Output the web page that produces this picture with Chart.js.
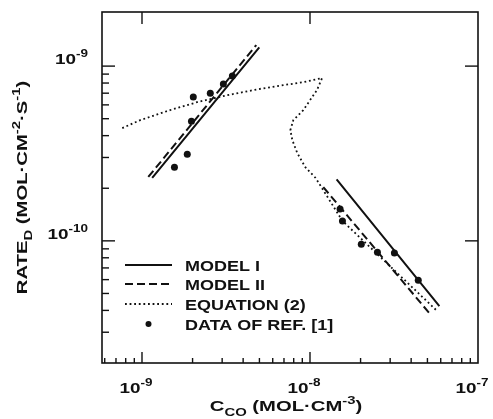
<!DOCTYPE html>
<html>
<head>
<meta charset="utf-8">
<script src="https://cdn.jsdelivr.net/npm/chart.js@4.4.1/dist/chart.umd.min.js"></script>
<style>
  html, body { margin: 0; padding: 0; background: #fff; }
  #wrap { width: 493px; height: 419px; }
</style>
</head>
<body>
<div id="wrap"><canvas id="chart"></canvas></div>
<script>
// data of ref. [1] (two groups)
const dataLowX = [1.56e-9, 1.86e-9, 1.97e-9, 2.02e-9, 2.55e-9, 3.05e-9, 3.45e-9];
const dataLowY = [2.64e-10, 3.13e-10, 4.84e-10, 6.65e-10, 7.0e-10, 7.89e-10, 8.77e-10];
const dataHighX = [1.51e-8, 1.56e-8, 2.02e-8, 2.52e-8, 3.18e-8, 4.41e-8];
const dataHighY = [1.52e-10, 1.30e-10, 9.57e-11, 8.61e-11, 8.51e-11, 5.96e-11];

// model lines, null = break between the two branches
const model1X = [1.15e-9, 4.99e-9, null, 1.44e-8, 5.89e-8];
const model1Y = [2.29e-10, 1.28e-9, null, 2.25e-10, 4.23e-11];
const model2X = [1.09e-9, 4.79e-9, null, 1.20e-8, 5.20e-8];
const model2Y = [2.32e-10, 1.32e-9, null, 2.03e-10, 3.80e-11];

// equation (2)
const eqX = [7.63e-10, 9.77e-10, 1.47e-9, 2.13e-9, 3.22e-9, 4.92e-9, 6.93e-9, 9.12e-9, 1.18e-8,
             1.10e-8, 9.12e-9, 7.96e-9, 7.64e-9, 7.85e-9, 8.40e-9, 9.38e-9, 1.08e-8, 1.18e-8, 1.56e-8, 5.65e-8];
const eqY = [4.42e-10, 4.91e-10, 5.60e-10, 6.22e-10, 6.82e-10, 7.38e-10, 7.78e-10, 8.09e-10, 8.54e-10,
             7.29e-10, 5.60e-10, 4.91e-10, 4.30e-10, 3.77e-10, 3.18e-10, 2.64e-10, 2.29e-10, 2.00e-10, 1.30e-10, 4.01e-11];

const xTickExps = [-9, -8, -7];
const yTickExps = [-10, -9];
const xTopTickExps = [-9, -8];
const legendLabels = ['MODEL I', 'MODEL II', 'EQUATION (2)', 'DATA OF REF. [1]'];

const INK = '#111';
const FONT = '"Liberation Sans", Arial, sans-serif';

function pts(xs, ys) {
  return xs.map((x, i) => ({ x: x, y: ys[i] }));
}

// draws text pieces (normal / sub / sup), stretched sideways like the old lettering
function drawParts(ctx, parts, x, y, align, base, stretch) {
  const sizes = { n: base, sub: Math.round(base * 0.75), sup: Math.round(base * 0.7) };
  const shift = { n: 0, sub: 5, sup: -7 };
  let total = 0;
  parts.forEach(p => {
    ctx.font = 'bold ' + sizes[p[1]] + 'px ' + FONT;
    total += ctx.measureText(p[0]).width;
  });
  total *= stretch;
  const start = align === 'right' ? x - total : align === 'center' ? x - total / 2 : x;
  ctx.save();
  ctx.translate(start, y);
  ctx.scale(stretch, 1);
  ctx.textAlign = 'left';
  ctx.textBaseline = 'alphabetic';
  let cx = 0;
  parts.forEach(p => {
    ctx.font = 'bold ' + sizes[p[1]] + 'px ' + FONT;
    ctx.fillText(p[0], cx, shift[p[1]]);
    cx += ctx.measureText(p[0]).width;
  });
  ctx.restore();
}

const axesPlugin = {
  id: 'axesPlugin',
  afterDraw(chart) {
    const ctx = chart.ctx;
    const area = chart.chartArea;
    const xs = chart.scales.x;
    const ys = chart.scales.y;
    ctx.save();
    ctx.strokeStyle = INK;
    ctx.fillStyle = INK;
    ctx.lineWidth = 1.6;
    ctx.strokeRect(area.left, area.top, area.right - area.left, area.bottom - area.top);

    // bottom ticks
    ctx.lineWidth = 1.4;
    for (let e = -10; e <= -7; e++) {
      for (let m = 1; m <= 9; m++) {
        const px = xs.getPixelForValue(m * Math.pow(10, e));
        if (px < area.left + 1 || px > area.right - 1) continue;
        const len = m === 1 ? 11 : 5;
        ctx.beginPath();
        ctx.moveTo(px, area.bottom);
        ctx.lineTo(px, area.bottom - len);
        ctx.stroke();
      }
    }
    // left ticks
    for (let e = -11; e <= -9; e++) {
      for (let m = 1; m <= 9; m++) {
        const py = ys.getPixelForValue(m * Math.pow(10, e));
        if (py < area.top + 2 || py > area.bottom - 1) continue;
        const len = m === 1 ? 13 : 7;
        ctx.beginPath();
        ctx.moveTo(area.left, py);
        ctx.lineTo(area.left + len, py);
        ctx.stroke();
      }
    }
    // top and right major ticks
    xTopTickExps.forEach(e => {
      const px = xs.getPixelForValue(Math.pow(10, e));
      ctx.beginPath();
      ctx.moveTo(px, area.top);
      ctx.lineTo(px, area.top + 12);
      ctx.stroke();
    });
    yTickExps.forEach(e => {
      const py = ys.getPixelForValue(Math.pow(10, e));
      ctx.beginPath();
      ctx.moveTo(area.right, py);
      ctx.lineTo(area.right - 13, py);
      ctx.stroke();
    });

    // tick labels
    xTickExps.forEach(e => {
      const px = xs.getPixelForValue(Math.pow(10, e));
      drawParts(ctx, [['10', 'n'], [String(e), 'sup']], px - 6, 393, 'center', 14, 1.35);
    });
    yTickExps.forEach(e => {
      const py = ys.getPixelForValue(Math.pow(10, e));
      drawParts(ctx, [['10', 'n'], [String(e), 'sup']], 88, py - 2, 'right', 14, 1.35);
    });

    // axis titles
    drawParts(ctx, [['C', 'n'], ['CO', 'sub'], [' (MOL\u00b7CM', 'n'], ['-3', 'sup'], [')', 'n']],
      286, 411, 'center', 15, 1.35);
    ctx.save();
    ctx.translate(27, (area.top + area.bottom) / 2);
    ctx.rotate(-Math.PI / 2);
    drawParts(ctx, [['RATE', 'n'], ['D', 'sub'], [' (MOL\u00b7CM', 'n'], ['-2', 'sup'], ['\u00b7S', 'n'], ['-1', 'sup'], [')', 'n']],
      0, 0, 'center', 15, 1.35);
    ctx.restore();

    // legend
    const rows = [265, 284, 304, 324];
    const x0 = 125, x1 = 172;
    legendLabels.forEach((label, i) => {
      const ds = chart.data.datasets[i];
      const y = rows[i];
      ctx.beginPath();
      if (i < 3) {
        ctx.setLineDash(ds.borderDash || []);
        ctx.lineWidth = ds.borderWidth;
        ctx.moveTo(x0, y);
        ctx.lineTo(x1, y);
        ctx.stroke();
        ctx.setLineDash([]);
      } else {
        ctx.arc((x0 + x1) / 2, y, 3, 0, Math.PI * 2);
        ctx.fill();
      }
      drawParts(ctx, [[label, 'n']], 185, y + 6, 'left', 15, 1.2);
    });
    ctx.restore();
  }
};

new Chart(document.getElementById('chart').getContext('2d'), {
  type: 'scatter',
  data: {
    datasets: [
      {
        label: 'MODEL I',
        data: pts(model1X, model1Y),
        showLine: true,
        borderColor: INK,
        borderWidth: 2,
        pointRadius: 0,
        spanGaps: false
      },
      {
        label: 'MODEL II',
        data: pts(model2X, model2Y),
        showLine: true,
        borderColor: INK,
        borderWidth: 2,
        borderDash: [8, 4],
        pointRadius: 0,
        spanGaps: false
      },
      {
        label: 'EQUATION (2)',
        data: pts(eqX, eqY),
        showLine: true,
        borderColor: INK,
        borderWidth: 1.8,
        borderDash: [1.8, 2.8],
        pointRadius: 0
      },
      {
        label: 'DATA OF REF. [1]',
        data: pts(dataLowX, dataLowY).concat(pts(dataHighX, dataHighY)),
        showLine: false,
        backgroundColor: INK,
        borderColor: INK,
        pointRadius: 3.5,
        pointBorderWidth: 0
      }
    ]
  },
  options: {
    responsive: true,
    maintainAspectRatio: false,
    animation: false,
    devicePixelRatio: 1,
    layout: { padding: { left: 102, right: 15, top: 12, bottom: 56 } },
    scales: {
      x: { type: 'logarithmic', min: 5.78e-10, max: 1e-7, display: false },
      y: { type: 'logarithmic', min: 2e-11, max: 2.04e-9, display: false }
    },
    plugins: {
      legend: { display: false },
      tooltip: { enabled: false }
    }
  },
  plugins: [axesPlugin]
});
</script>
</body>
</html>
